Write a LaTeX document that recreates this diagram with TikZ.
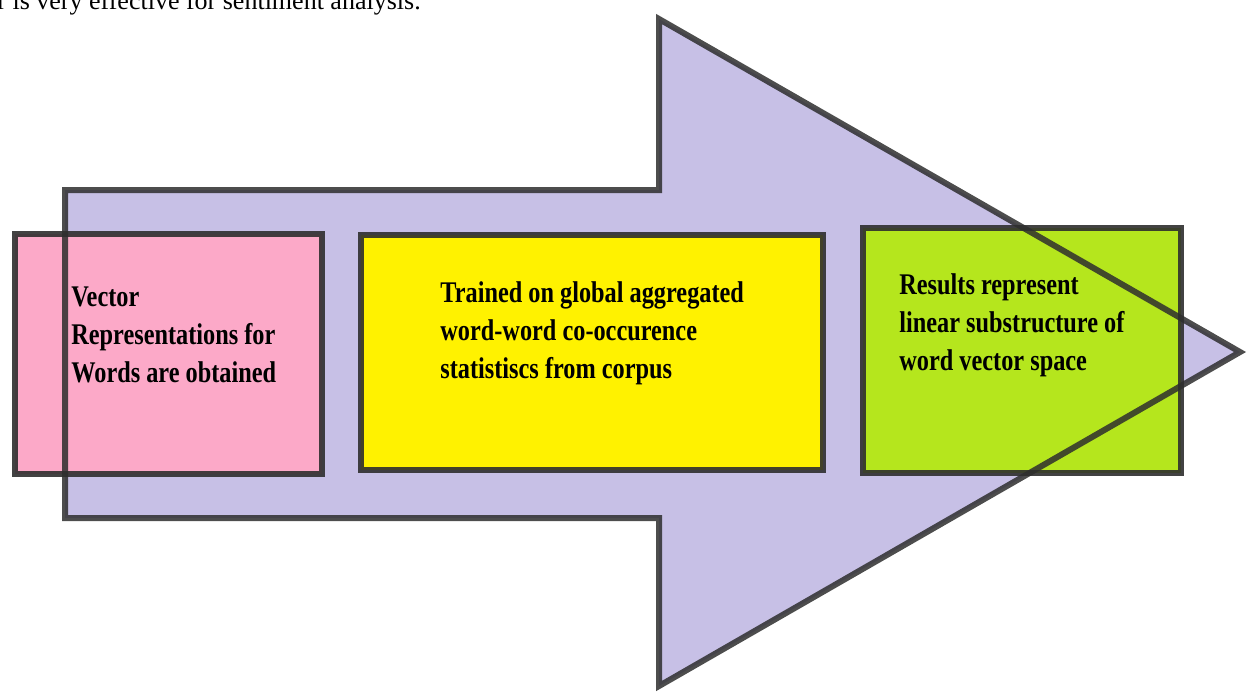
\documentclass[tikz,border=0pt]{standalone}
\usepackage{fontspec}
\setmainfont{Liberation Serif}
\newfontfamily\boxfont[FakeStretch=0.81]{Liberation Serif}
\usepackage{xcolor}
\usetikzlibrary{positioning}
\definecolor{arrowfill}{HTML}{C7C0E6}
\definecolor{edgegray}{HTML}{2E2E2E}
\definecolor{pinkfill}{HTML}{FCA9C8}
\definecolor{yellowfill}{HTML}{FFF200}
\definecolor{greenfill}{HTML}{B5E61D}
\tikzstyle{stagebox} = [rectangle, draw=edgegray, draw opacity=0.9, line width=3pt, inner sep=0pt]
\tikzstyle{stagetext} = [anchor=base west, align=left, inner sep=0pt, font=\boxfont\bfseries\fontsize{15}{19}\selectfont]
\tikzstyle{bigarrow} = [draw=edgegray, line width=3pt, line join=miter]

\begin{document}
\begin{tikzpicture}[x=0.5pt, y=-0.5pt]
        \useasboundingbox (0,0) rectangle (1247,692);
        % Cut-off line of the running text above
        \node (runtext) [anchor=base west, inner sep=0pt, font=\fontsize{13}{15}\selectfont] at (-3,9) {r is very effective for sentiment analysis.};

        % Arrow body behind the stages
        \fill [arrowfill] (65,190) -- (659,190) -- (659,19) -- (1240,352) -- (659,686) -- (659,518) -- (65,518) -- cycle;

        % Nodes for the three stages
        \node (vec_box) [stagebox, fill=pinkfill, minimum width=153.5pt, minimum height=120pt] at (168.5,354) {};
        \node (glob_box) [stagebox, fill=yellowfill, minimum width=231pt, minimum height=117.5pt] at (592,352.5) {};
        \node (res_box) [stagebox, fill=greenfill, minimum width=159pt, minimum height=122.5pt] at (1022,350.5) {};

        % Arrow outline on top
        \draw [bigarrow, draw opacity=0.85] (65,190) -- (659,190) -- (659,19) -- (1240,352) -- (659,686) -- (659,518) -- (65,518) -- cycle;

        % Texts of the stages (placed by their last line)
        \node (vec_text) [stagetext] at (71,382) {Vector\\Representations for\\Words are obtained};
        \node (glob_text) [stagetext] at (440,378) {Trained on global aggregated\\word-word co-occurence\\statistiscs from corpus};
        \node (res_text) [stagetext] at (899,370) {Results represent\\linear substructure of\\word vector space};
    \end{tikzpicture}
\end{document}
